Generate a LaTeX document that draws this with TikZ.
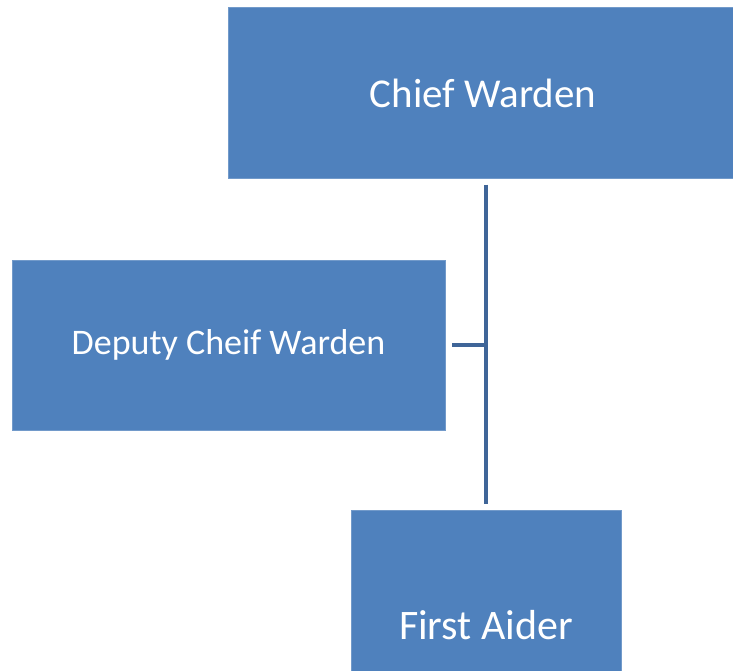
\documentclass[tikz,border=0pt]{standalone}
\usepackage{fontspec}
\setmainfont{Carlito}
\usepackage{xcolor}
\definecolor{boxblue}{RGB}{79,129,189}
\definecolor{lineblue}{RGB}{63,101,152}
\tikzset{
  postbox/.style={fill=boxblue, draw=boxblue!80!white, line width=0.5pt, text=white, inner sep=0pt, align=center},
  link/.style={draw=lineblue, line width=4.5pt}
}

\begin{document}
\begin{tikzpicture}[x=1pt,y=1pt,yscale=-1,xscale=1]
            \useasboundingbox (0,0) rectangle (733,671);
            \clip (0,0) rectangle (733,671);

            % Box: Chief Warden
            \node [postbox, minimum width=510, minimum height=171, font=\fontsize{41}{48}\selectfont] (chief) at (483,93) {Chief Warden};
            % Box: Deputy Cheif Warden
            \node [postbox, minimum width=433, minimum height=170, font=\fontsize{36}{42}\selectfont] (deputy) at (228.5,345) {Deputy Cheif Warden};
            % Box: First Aider (runs off the page)
            \node [postbox, minimum width=270, minimum height=230, font=\fontsize{42}{48}\selectfont] (aider) at (486,625) {First Aider};

            % junction on the trunk
            \coordinate (joint) at (486,345);

            % Straight Lines
            \draw [link, shorten <=6pt, shorten >=6pt] (chief.south -| joint) -- (aider.north -| joint) ;
            \draw [link, shorten <=7pt] (deputy.east) -- (joint) ;

\end{tikzpicture}
\end{document}
